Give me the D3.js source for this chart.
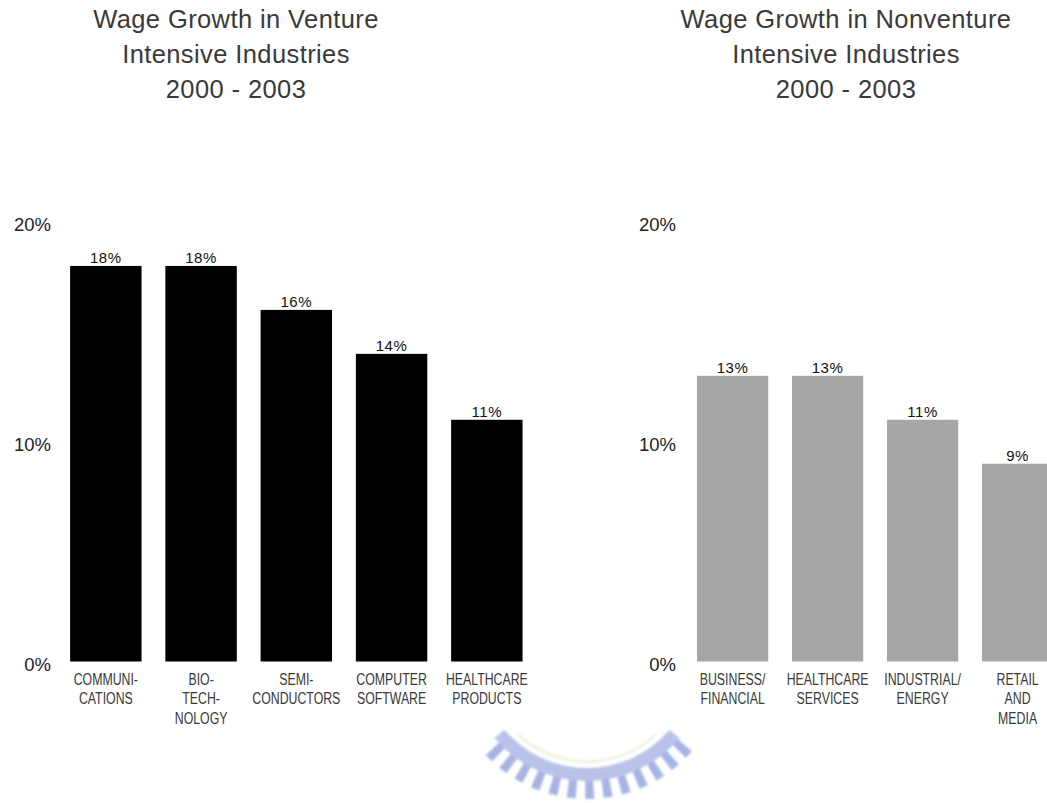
<!DOCTYPE html>
<html>
<head>
<meta charset="utf-8">
<script src="https://cdn.jsdelivr.net/npm/d3@7"></script>
<style>
  html, body { margin: 0; padding: 0; background: #fff; }
  svg { display: block; }
</style>
</head>
<body>
<svg id="chart" width="1047" height="803"></svg>
<script>
// Wage growth 2000-2003, venture vs nonventure intensive industries
const ventureCategories = [
  ["COMMUNI-", "CATIONS"],
  ["BIO-", "TECH-", "NOLOGY"],
  ["SEMI-", "CONDUCTORS"],
  ["COMPUTER", "SOFTWARE"],
  ["HEALTHCARE", "PRODUCTS"]
];
const ventureValues = [18, 18, 16, 14, 11];

const nonventureCategories = [
  ["BUSINESS/", "FINANCIAL"],
  ["HEALTHCARE", "SERVICES"],
  ["INDUSTRIAL/", "ENERGY"],
  ["RETAIL", "AND", "MEDIA"]
];
const nonventureValues = [13, 13, 11, 9];

const tickValues = [0, 10, 20];
const tickLabels = ["0%", "10%", "20%"];

const ventureTitle = ["Wage Growth in Venture", "Intensive Industries", "2000 - 2003"];
const nonventureTitle = ["Wage Growth in Nonventure", "Intensive Industries", "2000 - 2003"];

const svg = d3.select("#chart");

const defs = svg.append("defs");
defs.append("filter").attr("id", "soft")
  .append("feGaussianBlur").attr("stdDeviation", 1.2);

const y = d3.scaleLinear().domain([0, 20]).range([661.5, 222]);

function panel(opts) {
  const g = svg.append("g");
  const keys = opts.categories.map((c, i) => i);
  const x = d3.scaleBand()
    .domain(keys)
    .range([opts.x0, opts.x0 + opts.step * keys.length])
    .paddingInner(0.25)
    .paddingOuter(0.125);

  // title
  const t = g.append("text")
    .attr("x", opts.titleX)
    .attr("y", 28)
    .attr("text-anchor", "middle")
    .attr("fill", "#3a3a3a")
    .style("font-family", "'Liberation Sans', Arial, sans-serif")
    .style("font-size", "25.5px")
    .style("letter-spacing", "0.4px");
  opts.title.forEach((line, i) => {
    t.append("tspan").attr("x", opts.titleX).attr("dy", i === 0 ? 0 : 35).text(line);
  });

  // y-axis labels (no axis line, labels only)
  const yAxis = d3.axisLeft(y)
    .tickValues(tickValues)
    .tickFormat((d, i) => tickLabels[i])
    .tickSize(0)
    .tickPadding(0);
  const ya = g.append("g")
    .attr("transform", `translate(${opts.tickRight},0)`)
    .call(yAxis);
  ya.select(".domain").remove();
  ya.selectAll("text")
    .attr("dy", "0.32em")
    .attr("transform", "translate(0,3)")
    .attr("fill", "#222")
    .style("font-family", "'Liberation Sans', Arial, sans-serif")
    .style("font-size", "18.5px");

  // bars
  g.selectAll("rect.bar")
    .data(opts.values)
    .join("rect")
    .attr("class", "bar")
    .attr("x", (d, i) => x(i))
    .attr("width", x.bandwidth())
    .attr("y", d => y(d))
    .attr("height", d => y(0) - y(d))
    .attr("fill", opts.fill);

  // value labels
  g.selectAll("text.value")
    .data(opts.values)
    .join("text")
    .attr("class", "value")
    .attr("x", (d, i) => x(i) + x.bandwidth() / 2)
    .attr("y", d => y(d) - 3)
    .attr("text-anchor", "middle")
    .attr("fill", "#111")
    .style("font-family", "'Liberation Sans', Arial, sans-serif")
    .style("font-size", "15px")
    .style("letter-spacing", "0.6px")
    .text(d => d + "%");

  // category labels, horizontally condensed
  const sx = 0.77;
  const cl = g.selectAll("text.cat")
    .data(opts.categories)
    .join("text")
    .attr("class", "cat")
    .attr("text-anchor", "middle")
    .attr("fill", "#3a3a3a")
    .attr("transform", (d, i) => `translate(${x(i) + x.bandwidth() / 2},0) scale(${sx},1)`)
    .style("font-family", "'Liberation Sans', Arial, sans-serif")
    .style("font-size", "16px");
  cl.each(function (lines) {
    d3.select(this).selectAll("tspan")
      .data(lines)
      .join("tspan")
      .attr("x", 0)
      .attr("y", (d, j) => 685 + j * 19.5)
      .text(d => d);
  });
}

panel({
  categories: ventureCategories,
  values: ventureValues,
  x0: 58.2,
  step: 95.25,
  fill: "#000",
  title: ventureTitle,
  titleX: 236,
  tickRight: 51
});

panel({
  categories: nonventureCategories,
  values: nonventureValues,
  x0: 685.1,
  step: 95,
  fill: "#a6a6a6",
  title: nonventureTitle,
  titleX: 846,
  tickRight: 676
});

// faint seal emblem at the bottom centre
const seal = svg.append("g").attr("opacity", 0.6).attr("filter", "url(#soft)");
const cx = 587, cy = 660;
const span = 0.87;
const nTeeth = 13;
const teeth = d3.range(nTeeth).map(i => {
  const a0 = Math.PI - span + i * (2 * span / nTeeth);
  return { a0: a0 + 0.015, a1: a0 + (2 * span / nTeeth) * 0.6 };
});
seal.selectAll("path.tooth")
  .data(teeth)
  .join("path")
  .attr("class", "tooth")
  .attr("transform", `translate(${cx},${cy})`)
  .attr("d", d => d3.arc()({ innerRadius: 118, outerRadius: 139, startAngle: d.a0, endAngle: d.a1 }))
  .attr("fill", "#6f82d4");
seal.append("path")
  .attr("transform", `translate(${cx},${cy})`)
  .attr("d", d3.arc()({ innerRadius: 108, outerRadius: 121, startAngle: Math.PI - span, endAngle: Math.PI + span }))
  .attr("fill", "#8c9bdc");
seal.append("path")
  .attr("transform", `translate(${cx},${cy})`)
  .attr("d", d3.arc()({ innerRadius: 100, outerRadius: 103, startAngle: Math.PI - 0.75, endAngle: Math.PI + 0.75 }))
  .attr("fill", "#ece8d0");
</script>
</body>
</html>
